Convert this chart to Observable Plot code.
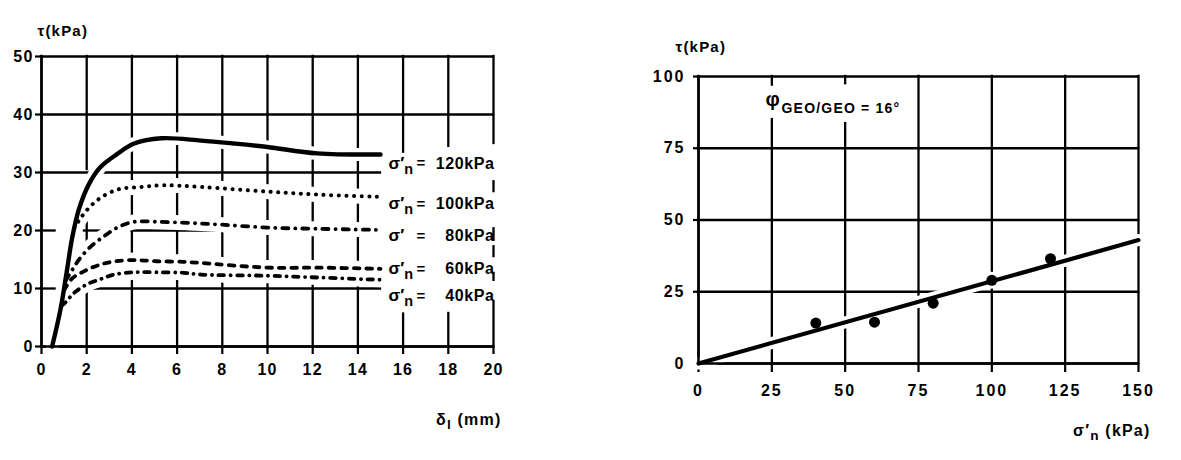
<!DOCTYPE html>
<html>
<head>
<meta charset="utf-8">
<script src="https://cdn.jsdelivr.net/npm/d3@7"></script>
<script src="https://cdn.jsdelivr.net/npm/@observablehq/plot@0.6"></script>
<style>
  body { margin: 0; background: #fff; }
  #wrap { position: relative; width: 1181px; height: 460px; overflow: hidden; background: #fff; }
  #left { position: absolute; left: 0; top: 0; }
  #right { position: absolute; left: 620px; top: 0; }
  svg text { letter-spacing: 1.2px; }
  #right svg g[aria-label="y-axis tick label"] text, #right svg g[aria-label="x-axis tick label"] text { letter-spacing: 2px; }
  svg g.sym text { letter-spacing: 0; }
  svg g.val text { letter-spacing: 0.6px; }
</style>
</head>
<body>
<div id="wrap"><div id="left"></div><div id="right"></div></div>
<script>
// ---------------- LEFT PANEL: shear stress τ (kPa) vs displacement δl (mm) ----------------
const stressLevels  = [120, 100, 80, 60, 40];
const stressSymbols = ["σ′_n", "σ′_n", "σ′", "σ′_n", "σ′_n"];

const disp120 = [0.47, 0.84, 1.13, 1.35, 1.65, 2.1, 2.6, 3.35, 4.1, 5.3, 7.06, 8.5, 10, 12.2, 15];
const tau120  = [0, 6.4, 13.2, 18.6, 23.6, 28.0, 30.9, 33.2, 35.0, 35.9, 35.5, 35.0, 34.4, 33.3, 33.1];
const disp100 = [1.45, 1.74, 2.1, 2.6, 3.4, 4.4, 5.4, 7.06, 10, 12.2, 15];
const tau100  = [20.4, 22.2, 23.9, 25.6, 27.1, 27.5, 27.8, 27.5, 26.7, 26.2, 25.8];
const disp80  = [1.07, 1.36, 1.7, 2.2, 2.8, 3.4, 4.1, 5.1, 6.5, 8, 10, 12.2, 15];
const tau80   = [11.4, 13.2, 15.2, 17.3, 19.1, 20.6, 21.5, 21.5, 21.3, 21.0, 20.5, 20.3, 20.1];
const disp60  = [1.0, 1.35, 1.9, 2.5, 3.2, 4.1, 5.1, 6.3, 7.06, 10, 12.2, 15];
const tau60   = [9.7, 11.7, 13.0, 14.0, 14.65, 14.9, 14.7, 14.6, 14.4, 13.6, 13.6, 13.4];
const disp40  = [0.88, 1.06, 1.43, 2.0, 2.6, 3.2, 4.1, 5.1, 6.3, 7.06, 10, 12.2, 15];
const tau40   = [7.0, 7.6, 9.2, 10.7, 11.6, 12.4, 12.8, 12.8, 12.7, 12.4, 12.2, 11.9, 11.5];

const xTicksLeft = [0, 2, 4, 6, 8, 10, 12, 14, 16, 18, 20];
const yTicksLeft = [0, 10, 20, 30, 40, 50];

// grid line pieces as drawn on the original sheet (data units)
const gridLeftH = [
  {y: 0, x1: 0, x2: 20}, {y: 10, x1: 0, x2: 0.6}, {y: 10, x1: 2.35, x2: 15},
  {y: 20, x1: 0, x2: 0.6}, {y: 20, x1: 1.9, x2: 2.6}, {y: 20, x1: 4, x2: 8.2},
  {y: 30, x1: 0, x2: 15}, {y: 40, x1: 0, x2: 20}, {y: 50, x1: 0, x2: 20}
];
const gridLeftV = [
  {x: 0, y1: 0, y2: 50},
  {x: 2, y1: 30.5, y2: 50}, {x: 2, y1: 18, y2: 21.5}, {x: 2, y1: 0, y2: 9.2},
  {x: 4, y1: 0, y2: 50}, {x: 6, y1: 0, y2: 50}, {x: 8, y1: 0, y2: 50},
  {x: 10, y1: 0, y2: 50}, {x: 12, y1: 0, y2: 50}, {x: 14, y1: 0, y2: 50},
  {x: 16, y1: 33.5, y2: 50}, {x: 16, y1: 0, y2: 5.6},
  {x: 18, y1: 34.5, y2: 50}, {x: 18, y1: 0, y2: 5.7},
  {x: 20, y1: 35, y2: 50}, {x: 20, y1: 26.7, y2: 28.4}, {x: 20, y1: 18.3, y2: 20.3},
  {x: 20, y1: 15.5, y2: 17.2}, {x: 20, y1: 11.4, y2: 12.6}, {x: 20, y1: 0, y2: 7.7}
];

// ---------------- RIGHT PANEL: failure envelope ----------------
const normalStress = [40, 60, 80, 100, 120];
const peakShear    = [14.1, 14.4, 21.0, 29.0, 36.5];
const envelopeX    = [0, 150];
const envelopeY    = [0, 43];
const xTicksRight  = [0, 25, 50, 75, 100, 125, 150];
const yTicksRight  = [0, 25, 50, 75, 100];
const gridRightH = [
  {y: 0, x1: 0, x2: 150}, {y: 25, x1: 0, x2: 150}, {y: 50, x1: 0, x2: 150},
  {y: 75, x1: 0, x2: 150}, {y: 100, x1: 0, x2: 150}
];
const gridRightV = [
  {x: 0, y1: 0, y2: 100},
  {x: 25, y1: 0, y2: 85}, {x: 25, y1: 97, y2: 100},
  {x: 50, y1: 0, y2: 83.6}, {x: 50, y1: 97.5, y2: 100},
  {x: 75, y1: 0, y2: 100}, {x: 100, y1: 0, y2: 100},
  {x: 125, y1: 0, y2: 100}, {x: 150, y1: 0, y2: 100}
];

// ---------------- helpers ----------------
const FONT = "'Liberation Sans', Arial, 'DejaVu Sans', sans-serif";
function subscripts(svg) {
  d3.select(svg).selectAll("text").each(function () {
    const t = this.textContent;
    if (!t.includes("_")) return;
    const parts = t.split(/_(\S)/);
    const sel = d3.select(this).text(null);
    parts.forEach((p, i) => {
      if (i % 2 === 1) sel.append("tspan").attr("dy", "0.32em").attr("font-size", "0.85em").text(p);
      else if (p) sel.append("tspan").attr("dy", i > 0 ? "-0.27em" : null).text(p);
    });
  });
}

// ---------------- build left chart ----------------
const dispArr = [disp120, disp100, disp80, disp60, disp40];
const tauArr  = [tau120, tau100, tau80, tau60, tau40];
const rows = stressLevels.map((s, i) => dispArr[i].map((x, j) => ({s, x, y: tauArr[i][j]})));
const lineStyle = [
  {w: 4.4, dash: null, halo: 13},
  {w: 4.0, dash: "0.1 7.5", halo: 15},
  {w: 3.8, dash: "6 7 0.1 7", halo: 15},
  {w: 3.8, dash: "5.5 7", halo: 15},
  {w: 3.8, dash: "5.5 6.5 0.1 6.5", halo: 15}
];
const labelDy = [9, 7, 6, 0, 16];

const leftMarks = [
  Plot.axisX({ticks: xTicksLeft, tickSize: 8, tickPadding: 9, strokeWidth: 2.2, label: null}),
  Plot.axisY({ticks: yTicksLeft, tickSize: 6, tickPadding: 2, strokeWidth: 2.2, label: null}),
  Plot.ruleY(gridLeftH, {y: "y", x1: "x1", x2: "x2", strokeWidth: 2.3, strokeLinecap: "square"}),
  Plot.ruleX(gridLeftV, {x: "x", y1: "y1", y2: "y2", strokeWidth: 2.3, strokeLinecap: "square"}),
  ...rows.map((r, i) => Plot.line(r, {x: "x", y: "y", stroke: "white", strokeWidth: lineStyle[i].halo, curve: "catmull-rom"})),
  Plot.ruleY(gridLeftH.filter(d => d.y === 0), {y: "y", x1: "x1", x2: "x2", strokeWidth: 2.5}),
  Plot.ruleX(gridLeftV.filter(d => d.x === 0), {x: "x", y1: "y1", y2: "y2", strokeWidth: 2.5}),
  ...rows.map((r, i) => Plot.line(r, {
    x: "x", y: "y", stroke: "black", strokeWidth: lineStyle[i].w,
    strokeDasharray: lineStyle[i].dash, strokeLinecap: "round", curve: "catmull-rom"
  })),
  ...rows.flatMap((r, i) => {
    const end = [{...r[r.length - 1], sym: stressSymbols[i], val: `${stressLevels[i]}kPa`}];
    return [
      Plot.text(end, {x: "x", y: "y", text: "sym", dx: 8, dy: labelDy[i], textAnchor: "start", fontSize: 17, className: "sym"}),
      Plot.text(end, {x: "x", y: "y", text: () => "=", dx: 41, dy: labelDy[i], fontSize: 15}),
      Plot.text(end, {y: "y", text: "val", frameAnchor: "right", dx: 1, dy: labelDy[i], textAnchor: "end", fontSize: 16, className: "val"})
    ];
  }),
  Plot.text(["τ(kPa)"], {frameAnchor: "top-left", dx: -4, dy: -31, textAnchor: "start", fontSize: 15}),
  Plot.text(["δ_l (mm)"], {frameAnchor: "bottom-right", dx: 8, dy: 78, textAnchor: "end", fontSize: 16})
];

const left = Plot.plot({
  width: 520, height: 460,
  marginLeft: 41, marginRight: 27, marginTop: 56, marginBottom: 114,
  x: {domain: [0, 20]}, y: {domain: [0, 50]},
  style: {fontFamily: FONT, fontSize: "16px", fontWeight: "bold", background: "white", color: "black", overflow: "visible"},
  marks: leftMarks
});
subscripts(left);
document.getElementById("left").append(left);

// ---------------- build right chart ----------------
const pts = normalStress.map((x, i) => ({x, y: peakShear[i]}));
const env = envelopeX.map((x, i) => ({x, y: envelopeY[i]}));

const right = Plot.plot({
  width: 561, height: 460,
  marginLeft: 78, marginRight: 43, marginTop: 76, marginBottom: 97,
  x: {domain: [0, 150]}, y: {domain: [0, 100]},
  style: {fontFamily: FONT, fontSize: "16px", fontWeight: "bold", background: "white", color: "black", overflow: "visible"},
  marks: [
    Plot.axisX({ticks: xTicksRight, tickSize: 9, tickPadding: 12, strokeWidth: 2.2, label: null}),
    Plot.axisY({ticks: yTicksRight, tickSize: 5, tickPadding: 8, strokeWidth: 2.2, label: null}),
    Plot.ruleY(gridRightH, {y: "y", x1: "x1", x2: "x2", strokeWidth: 2.3, strokeLinecap: "square"}),
    Plot.ruleX(gridRightV, {x: "x", y1: "y1", y2: "y2", strokeWidth: 2.3, strokeLinecap: "square"}),
    Plot.line(env, {x: "x", y: "y", stroke: "white", strokeWidth: 12}),
    Plot.dot(pts, {x: "x", y: "y", r: 8.5, fill: "white"}),
    Plot.ruleY(gridRightH.filter(d => d.y === 0), {y: "y", x1: "x1", x2: "x2", strokeWidth: 2.5}),
    Plot.ruleX(gridRightV.filter(d => d.x === 0), {x: "x", y1: "y1", y2: "y2", strokeWidth: 2.5}),
    Plot.line(env, {x: "x", y: "y", stroke: "black", strokeWidth: 4.2}),
    Plot.dot(pts, {x: "x", y: "y", r: 5.5, fill: "black"}),
    Plot.text(["φ"], {frameAnchor: "top-left", dx: 67, dy: 15, fontSize: 20}),
    Plot.text(["GEO/GEO = 16°"], {frameAnchor: "top-left", dx: 83, dy: 27, textAnchor: "start", fontSize: 14}),
    Plot.text(["τ(kPa)"], {frameAnchor: "top-left", dx: -23, dy: -35, textAnchor: "start", fontSize: 15}),
    Plot.text(["σ′_n (kPa)"], {frameAnchor: "bottom-right", dx: 12, dy: 72, textAnchor: "end", fontSize: 16})
  ]
});
subscripts(right);
document.getElementById("right").append(right);
</script>
</body>
</html>
